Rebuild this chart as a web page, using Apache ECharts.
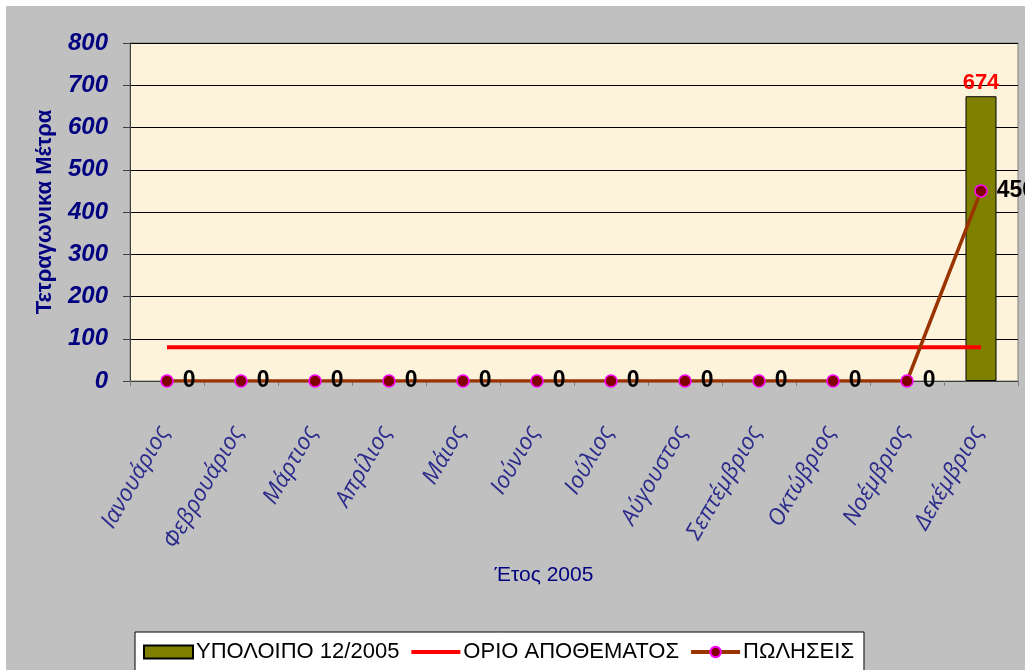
<!DOCTYPE html>
<html>
<head>
<meta charset="utf-8">
<script src="https://cdn.jsdelivr.net/npm/echarts@6/dist/echarts.min.js"></script>
<style>
html,body{margin:0;padding:0;background:#ffffff;width:1025px;height:670px;overflow:hidden;}
#c{position:absolute;left:6px;top:6px;width:1019px;height:664px;background:#c0c0c0;}
</style>
</head>
<body>
<div id="c"></div>
<script>
const months = ['Ιανουάριος','Φεβρουάριος','Μάρτιος','Απρίλιος','Μάιος','Ιούνιος','Ιούλιος','Αύγουστος','Σεπτέμβριος','Οκτώβριος','Νοέμβριος','Δεκέμβριος'];
const balance = [null,null,null,null,null,null,null,null,null,null,null,674];
const stockLimit = [80,80,80,80,80,80,80,80,80,80,80,80];
const sales = [0,0,0,0,0,0,0,0,0,0,0,450];
const yTicks = {min:0, max:800, interval:100};

const chart = echarts.init(document.getElementById('c'), null, {renderer:'canvas'});
chart.setOption({
  backgroundColor:'#c0c0c0',
  animation:false,
  grid:{left:124, top:37, width:888, height:338, show:true, backgroundColor:'#fdf2da', borderColor:'#808080', borderWidth:1},
  legend:{
    left:129, top:626, padding:[9,10,12,8], itemGap:10,
    backgroundColor:'#ffffff', borderColor:'#000000', borderWidth:1, borderRadius:0,
    itemWidth:49, itemHeight:13,
    textStyle:{fontFamily:'Liberation Sans, Arial', fontSize:22, color:'#000000', padding:[0,0,0,-2]},
    data:[
      {name:'ΥΠΟΛΟΙΠΟ 12/2005', icon:'rect'},
      {name:'ΟΡΙΟ ΑΠΟΘΕΜΑΤΟΣ', itemStyle:{opacity:0}, lineStyle:{width:4, color:'#ff0000'}},
      {name:'ΠΩΛΗΣΕΙΣ', lineStyle:{width:4, color:'#993300'}}
    ]
  },
  xAxis:{
    type:'category', data:months, boundaryGap:true,
    name:'Έτος 2005', nameLocation:'middle', nameGap:184,
    nameTextStyle:{fontFamily:'Liberation Sans, Arial', fontSize:21, color:'#000080', padding:[0,60,0,0]},
    axisLine:{lineStyle:{color:'#404040', width:1}},
    axisTick:{show:true, length:5, lineStyle:{color:'#808080'}},
    axisLabel:{rotate:60, margin:42, interval:0, padding:[0,6,0,0], fontFamily:'Open Sans', fontStyle:'italic', fontSize:23, color:'#2b2b8c'}
  },
  yAxis:{
    type:'value', min:yTicks.min, max:yTicks.max, interval:yTicks.interval,
    name:'Τετραγωνικα Μέτρα', nameLocation:'middle', nameGap:74, nameRotate:90,
    nameTextStyle:{fontFamily:'Liberation Sans, Arial', fontSize:22, fontWeight:'bold', color:'#000080'},
    axisLine:{show:true, lineStyle:{color:'#404040', width:1}},
    axisTick:{show:true, length:7, lineStyle:{color:'#404040'}},
    splitLine:{show:true, lineStyle:{color:'#000000', width:1}},
    axisLabel:{margin:22, fontFamily:'Liberation Sans, Arial', fontStyle:'italic', fontWeight:'bold', fontSize:24, color:'#000080'}
  },
  series:[
    {
      name:'ΥΠΟΛΟΙΠΟ 12/2005', type:'bar', data:balance, barWidth:31,
      itemStyle:{color:'#808000', borderColor:'#000000', borderWidth:1},
      label:{show:true, position:'top', distance:2, color:'#ff0000', fontFamily:'Liberation Sans, Arial', fontWeight:'bold', fontSize:22}
    },
    {
      name:'ΟΡΙΟ ΑΠΟΘΕΜΑΤΟΣ', type:'line', data:stockLimit, showSymbol:false, symbol:'none',
      lineStyle:{color:'#ff0000', width:4}, itemStyle:{color:'#ff0000'}
    },
    {
      name:'ΠΩΛΗΣΕΙΣ', type:'line', data:sales, symbol:'circle', symbolSize:12, z:5,
      lineStyle:{color:'#993300', width:3.5},
      itemStyle:{color:'#800000', borderColor:'#ff00ff', borderWidth:1.5},
      label:{show:true, position:'right', distance:9, color:'#000000', fontFamily:'Liberation Sans, Arial', fontWeight:'bold', fontSize:23}
    }
  ]
});
</script>
</body>
</html>
